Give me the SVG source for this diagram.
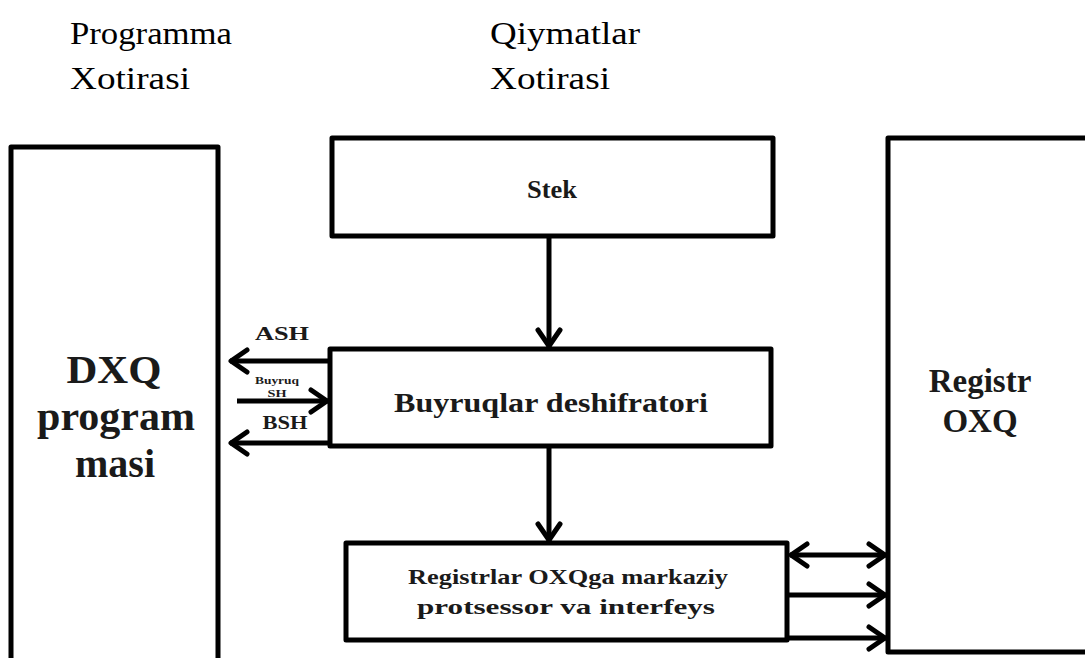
<svg xmlns="http://www.w3.org/2000/svg" width="1085" height="658" viewBox="0 0 1085 658">
<defs>
<marker id="ah" viewBox="0 0 30 30" refX="26" refY="15" markerWidth="30" markerHeight="30" markerUnits="userSpaceOnUse" orient="auto-start-reverse">
<polyline points="9,4 25,15 9,26" fill="none" stroke="#000" stroke-width="5" stroke-linecap="round" stroke-linejoin="round"/>
</marker>
<style>
.box{fill:#fff;stroke:#000;stroke-width:5;stroke-linejoin:round}
.ln{fill:none;stroke:#000;stroke-width:5}
.b{font-weight:bold;fill:#1a1a1a;text-anchor:middle}
</style>
</defs>
<rect width="1085" height="658" fill="#fff"/>
<g font-family="Liberation Serif, Times New Roman, serif">
<g id="headers" fill="#000">
<text x="70" y="44" font-size="31" textLength="162" lengthAdjust="spacingAndGlyphs">Programma</text>
<text x="70" y="89" font-size="31" textLength="120" lengthAdjust="spacingAndGlyphs">Xotirasi</text>
<text x="490" y="44" font-size="31" textLength="150" lengthAdjust="spacingAndGlyphs">Qiymatlar</text>
<text x="490" y="89" font-size="31" textLength="120" lengthAdjust="spacingAndGlyphs">Xotirasi</text>
</g>
<g id="dxq">
<path class="box" d="M11,662 V147 H218 V662"/>
<text class="b" x="114" y="383" font-size="41" textLength="95" lengthAdjust="spacingAndGlyphs">DXQ</text>
<text class="b" x="116" y="430" font-size="41" textLength="158" lengthAdjust="spacingAndGlyphs">program</text>
<text class="b" x="115" y="477" font-size="41" textLength="80" lengthAdjust="spacingAndGlyphs">masi</text>
</g>
<g id="registr">
<path class="box" d="M1090,652 H888 V138 H1090"/>
<text class="b" x="980" y="392" font-size="33">Registr</text>
<text class="b" x="980" y="432" font-size="33">OXQ</text>
</g>
<g id="stek">
<rect class="box" x="332" y="138" width="441" height="98"/>
<text class="b" x="552" y="198" font-size="25" textLength="50" lengthAdjust="spacingAndGlyphs">Stek</text>
</g>
<g id="decoder">
<rect class="box" x="330" y="349" width="441" height="97"/>
<text class="b" x="551" y="412" font-size="27" textLength="314" lengthAdjust="spacingAndGlyphs">Buyruqlar deshifratori</text>
</g>
<g id="cpu">
<rect class="box" x="346" y="543" width="441" height="97"/>
<text class="b" x="568" y="584" font-size="22" textLength="320" lengthAdjust="spacingAndGlyphs">Registrlar OXQga markaziy</text>
<text class="b" x="566" y="614" font-size="22" textLength="298" lengthAdjust="spacingAndGlyphs">protsessor va interfeys</text>
</g>
<g id="connectors">
<line class="ln" x1="549" y1="236" x2="549" y2="347" marker-end="url(#ah)"/>
<line class="ln" x1="549" y1="446" x2="549" y2="541" marker-end="url(#ah)"/>
<line class="ln" x1="328" y1="361" x2="230" y2="361" marker-end="url(#ah)"/>
<line class="ln" x1="237" y1="401" x2="328" y2="401" marker-end="url(#ah)"/>
<line class="ln" x1="328" y1="443" x2="230" y2="443" marker-end="url(#ah)"/>
<line class="ln" x1="790" y1="555" x2="886" y2="555" marker-start="url(#ah)" marker-end="url(#ah)"/>
<line class="ln" x1="789" y1="595" x2="886" y2="595" marker-end="url(#ah)"/>
<line class="ln" x1="789" y1="638" x2="886" y2="638" marker-end="url(#ah)"/>
</g>
<g id="labels">
<text class="b" x="282" y="340" font-size="19" textLength="54" lengthAdjust="spacingAndGlyphs">ASH</text>
<text class="b" x="277" y="384" font-size="11" textLength="44" lengthAdjust="spacingAndGlyphs">Buyruq</text>
<text class="b" x="277" y="397" font-size="11" textLength="19" lengthAdjust="spacingAndGlyphs">SH</text>
<text class="b" x="285" y="429" font-size="19" textLength="45" lengthAdjust="spacingAndGlyphs">BSH</text>
</g>
</g>
</svg>
